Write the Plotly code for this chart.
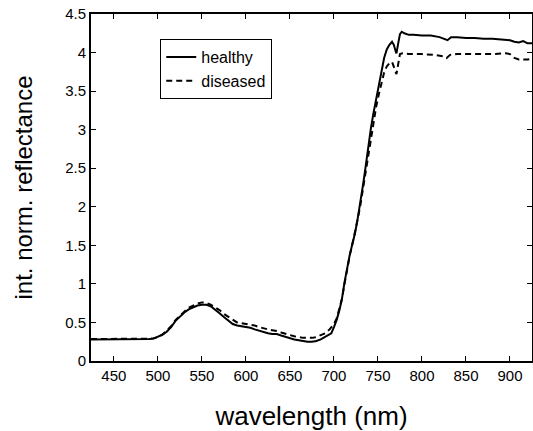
import plotly.graph_objects as go

wl_healthy = [424, 440, 460, 480, 490, 495, 500, 505, 510, 515, 520, 525, 530, 535, 540, 545,
              550, 555, 560, 565, 570, 575, 580, 585, 590, 595, 600, 605, 610, 615, 620, 625,
              630, 635, 640, 645, 650, 655, 660, 665, 670, 675, 680, 685, 690, 695, 697, 700,
              703, 706, 709, 712, 715, 718, 721, 724, 727, 730, 733, 736, 739, 742, 745, 748,
              751, 754, 757, 760, 763, 766, 768, 770, 771, 773, 775, 777, 780, 785, 790, 800,
              810, 820, 825, 829, 833, 840, 850, 860, 870, 880, 890, 900, 905, 910, 915, 920, 925]
healthy = [0.28, 0.28, 0.28, 0.28, 0.285, 0.29, 0.31, 0.34, 0.38, 0.44, 0.52, 0.58, 0.63, 0.67, 0.70, 0.72,
           0.73, 0.73, 0.71, 0.67, 0.62, 0.57, 0.52, 0.48, 0.46, 0.45, 0.44, 0.43, 0.41, 0.39, 0.37, 0.36,
           0.35, 0.35, 0.33, 0.31, 0.29, 0.28, 0.27, 0.26, 0.25, 0.25, 0.26, 0.28, 0.31, 0.34, 0.36, 0.44,
           0.53, 0.65, 0.80, 1.02, 1.22, 1.38, 1.52, 1.66, 1.85, 2.05, 2.28, 2.52, 2.78, 3.02, 3.22, 3.40,
           3.58, 3.78, 3.93, 4.04, 4.10, 4.14, 4.10, 4.02, 3.99, 4.12, 4.24, 4.27, 4.25, 4.23, 4.23, 4.22,
           4.22, 4.20, 4.18, 4.16, 4.20, 4.20, 4.19, 4.19, 4.18, 4.18, 4.17, 4.16, 4.14, 4.13, 4.15, 4.12, 4.12]

wl_diseased = [424, 440, 460, 480, 490, 495, 500, 505, 510, 515, 520, 525, 530, 535, 540, 545,
               550, 555, 560, 565, 570, 575, 580, 585, 590, 595, 600, 605, 610, 615, 620, 625,
               630, 635, 640, 645, 650, 655, 660, 665, 670, 675, 680, 685, 690, 695, 700,
               703, 706, 709, 712, 715, 718, 721, 724, 727, 730, 733, 736, 739, 742, 745, 748,
               751, 754, 757, 760, 763, 766, 768, 770, 771, 773, 775, 778, 785, 800, 815, 825,
               828, 832, 840, 860, 880, 895, 900, 905, 910, 920, 925]
diseased = [0.285, 0.285, 0.285, 0.285, 0.29, 0.295, 0.31, 0.34, 0.39, 0.45, 0.53, 0.59, 0.64, 0.69, 0.72, 0.745,
            0.76, 0.755, 0.73, 0.70, 0.66, 0.61, 0.57, 0.53, 0.50, 0.49, 0.48, 0.47, 0.46, 0.44, 0.42, 0.41,
            0.40, 0.39, 0.37, 0.35, 0.33, 0.32, 0.31, 0.30, 0.30, 0.30, 0.31, 0.33, 0.36, 0.41, 0.48,
            0.55, 0.66, 0.80, 1.00, 1.20, 1.37, 1.52, 1.66, 1.84, 2.02, 2.23, 2.45, 2.68, 2.92, 3.12, 3.30,
            3.46, 3.62, 3.74, 3.82, 3.86, 3.88, 3.82, 3.74, 3.72, 3.85, 3.98, 3.99, 3.98, 3.98, 3.97, 3.95,
            3.93, 3.97, 3.98, 3.98, 3.98, 3.99, 3.98, 3.93, 3.91, 3.91, 3.92]

x_ticks = [450, 500, 550, 600, 650, 700, 750, 800, 850, 900]
y_ticks = [0, 0.5, 1, 1.5, 2, 2.5, 3, 3.5, 4, 4.5]
y_tick_labels = ["0", "0.5", "1", "1.5", "2", "2.5", "3", "3.5", "4", "4.5"]

fig = go.Figure()
fig.add_trace(go.Scatter(x=wl_healthy, y=healthy, mode="lines", name="healthy",
                         line=dict(color="black", width=2)))
fig.add_trace(go.Scatter(x=wl_diseased, y=diseased, mode="lines", name="diseased",
                         line=dict(color="black", width=2, dash="6px,4px")))

axis_common = dict(showline=True, linecolor="black", linewidth=2, mirror="ticks",
                   ticks="inside", ticklen=5, tickcolor="black", tickwidth=1,
                   showgrid=False, zeroline=False, automargin=False,
                   tickfont=dict(family="Liberation Sans, Arial", size=15, color="black"))

fig.update_layout(
    template="none",
    width=533, height=431,
    margin=dict(l=91, r=1, t=14, b=70),
    paper_bgcolor="white", plot_bgcolor="white",
    font=dict(family="Liberation Sans, Arial", color="black"),
    showlegend=True,
    legend=dict(x=0.157, y=0.928, xanchor="left", yanchor="top",
                bordercolor="black", borderwidth=1, bgcolor="white",
                font=dict(size=16, color="black"), itemwidth=30,
                tracegroupgap=0),
    xaxis=dict(range=[424, 925], tickvals=x_ticks,
               title=dict(text="wavelength (nm)", font=dict(size=26)),
               **axis_common),
    yaxis=dict(range=[0, 4.5], tickvals=y_ticks, ticktext=y_tick_labels,
               title=dict(text="int. norm. reflectance", font=dict(size=24)),
               **axis_common),
)

fig.write_html("out.html",
               config={"displayModeBar": False},
               post_script="document.body.style.margin='0';document.body.style.overflow='hidden';")
